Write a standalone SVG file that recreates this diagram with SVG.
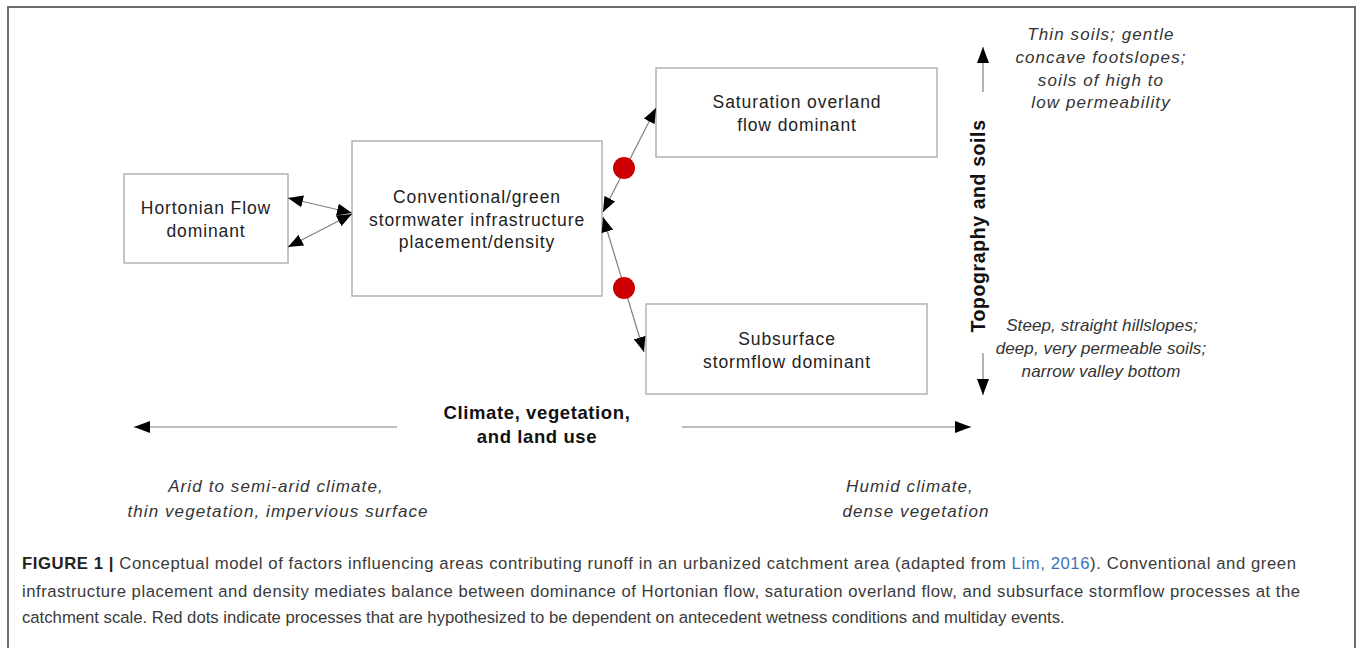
<svg xmlns="http://www.w3.org/2000/svg" width="1360" height="648" viewBox="0 0 1360 648">
  <style>
    .box { fill: #ffffff; stroke: #b3b3b3; stroke-width: 1.5; }
    .lbl { font-family: "Liberation Sans", Arial, sans-serif; font-size: 17.5px; fill: #222; text-anchor: middle; letter-spacing: 0.9px; }
    .note { font-family: "Liberation Sans", Arial, sans-serif; font-size: 17px; font-style: italic; fill: #333; text-anchor: middle; letter-spacing: 1.1px; }
    .note.tight { letter-spacing: 0.1px; }
    .axis { font-family: "Liberation Sans", Arial, sans-serif; font-size: 18.5px; font-weight: bold; fill: #111; text-anchor: middle; letter-spacing: 0.6px; }
    .link { stroke: #808080; stroke-width: 1.2; fill: none; }
    .caption { font-family: "Liberation Sans", Arial, sans-serif; font-size: 16.7px; fill: #3a3a3a; }
  </style>
  <defs>
    <marker id="head" viewBox="0 0 15 12" refX="15" refY="6" markerWidth="15" markerHeight="12" markerUnits="userSpaceOnUse" orient="auto-start-reverse">
      <path d="M0,0 L15,6 L0,12 z" fill="#000"/>
    </marker>
    <marker id="headLg" viewBox="0 0 16 12" refX="16" refY="6" markerWidth="16" markerHeight="12" markerUnits="userSpaceOnUse" orient="auto">
      <path d="M0,0 L16,6 L0,12 z" fill="#000"/>
    </marker>
  </defs>

  <rect width="1360" height="648" fill="#ffffff"/>
  <!-- figure frame, open at the bottom -->
  <path d="M8,648 L8,7 L1355,7 L1355,648" fill="none" stroke="#6e6e6e" stroke-width="2"/>

  <g id="node-hortonian">
    <rect class="box" x="124" y="174" width="164" height="89"/>
    <text class="lbl" x="206" y="214">Hortonian Flow</text>
    <text class="lbl" x="206" y="237">dominant</text>
  </g>

  <g id="node-infrastructure">
    <rect class="box" x="352" y="141" width="250" height="155"/>
    <text class="lbl" x="477" y="203">Conventional/green</text>
    <text class="lbl" x="477" y="226">stormwater infrastructure</text>
    <text class="lbl" x="477" y="248">placement/density</text>
  </g>

  <g id="node-saturation">
    <rect class="box" x="656" y="68" width="281" height="89"/>
    <text class="lbl" x="797" y="108">Saturation overland</text>
    <text class="lbl" x="797" y="131">flow dominant</text>
  </g>

  <g id="node-subsurface">
    <rect class="box" x="646" y="304" width="281" height="90"/>
    <text class="lbl" x="787" y="345">Subsurface</text>
    <text class="lbl" x="787" y="368">stormflow dominant</text>
  </g>

  <g id="connectors">
    <line class="link" x1="288" y1="198" x2="352" y2="213" marker-start="url(#head)" marker-end="url(#head)"/>
    <line class="link" x1="288" y1="247" x2="352" y2="214" marker-start="url(#head)" marker-end="url(#head)"/>
    <line class="link" x1="603" y1="212" x2="656" y2="108" marker-start="url(#head)" marker-end="url(#head)"/>
    <line class="link" x1="603" y1="217" x2="644" y2="352" marker-start="url(#head)" marker-end="url(#head)"/>
    <!-- topography / soils axis -->
    <line class="link" x1="983" y1="92" x2="983" y2="47" marker-end="url(#headLg)"/>
    <line class="link" x1="983" y1="353" x2="983" y2="395" marker-end="url(#headLg)"/>
    <!-- climate / vegetation / land use axis -->
    <line class="link" x1="397" y1="427" x2="134" y2="427" marker-end="url(#headLg)"/>
    <line class="link" x1="682" y1="427" x2="971" y2="427" marker-end="url(#headLg)"/>
  </g>

  <g id="wetness-dots" fill="#cc0000">
    <circle cx="624" cy="168" r="11"/>
    <circle cx="624" cy="288" r="11"/>
  </g>

  <g id="axis-labels">
    <text class="axis" transform="translate(985,226) rotate(-90)" style="font-size:19.5px">Topography and soils</text>
    <text class="axis" x="537" y="419">Climate, vegetation,</text>
    <text class="axis" x="537" y="443">and land use</text>
  </g>

  <g id="axis-notes">
    <text class="note" x="1101" y="40">Thin soils; gentle</text>
    <text class="note" x="1101" y="63">concave footslopes;</text>
    <text class="note" x="1101" y="86">soils of high to</text>
    <text class="note" x="1101" y="108">low permeability</text>

    <text class="note tight" x="1102" y="331">Steep, straight hillslopes;</text>
    <text class="note tight" x="1101" y="354">deep, very permeable soils;</text>
    <text class="note tight" x="1101" y="377">narrow valley bottom</text>

    <text class="note" x="276" y="492">Arid to semi-arid climate,</text>
    <text class="note" x="278" y="517">thin vegetation, impervious surface</text>

    <text class="note" x="910" y="492">Humid climate,</text>
    <text class="note" x="916" y="517">dense vegetation</text>
  </g>

  <g id="caption" class="caption">
    <text x="22" y="569" textLength="1274" lengthAdjust="spacing"><tspan font-weight="bold" fill="#222">FIGURE 1 |</tspan> Conceptual model of factors influencing areas contributing runoff in an urbanized catchment area (adapted from <tspan fill="#3b73b9">Lim, 2016</tspan>). Conventional and green</text>
    <text x="22" y="597" textLength="1278" lengthAdjust="spacing">infrastructure placement and density mediates balance between dominance of Hortonian flow, saturation overland flow, and subsurface stormflow processes at the</text>
    <text x="22" y="623">catchment scale. Red dots indicate processes that are hypothesized to be dependent on antecedent wetness conditions and multiday events.</text>
  </g>
</svg>
